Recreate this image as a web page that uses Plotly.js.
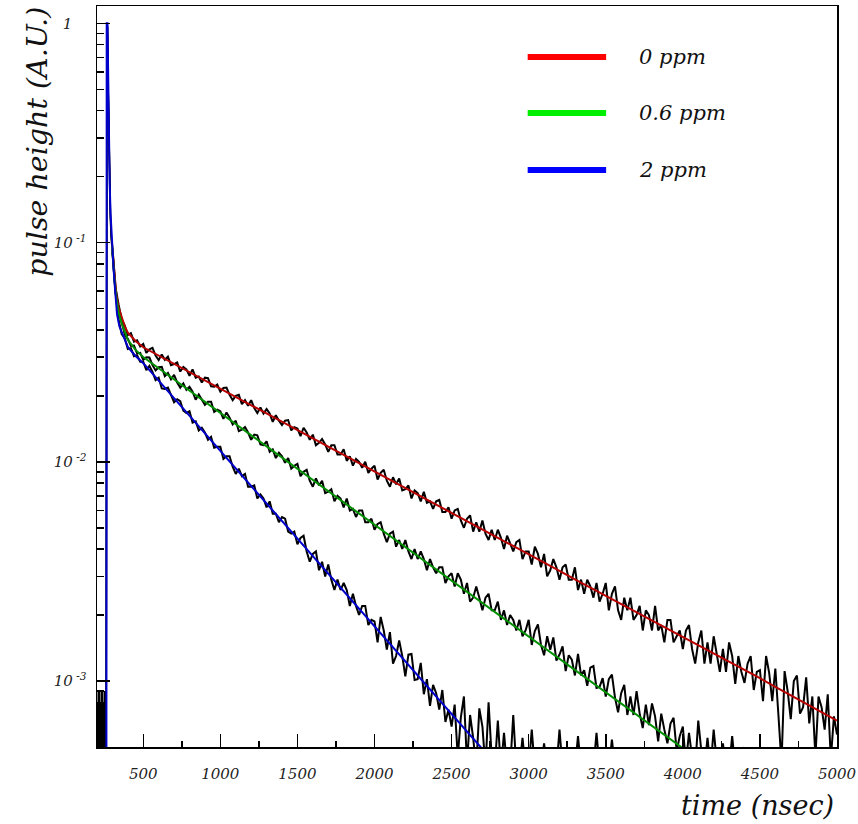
<!DOCTYPE html>
<html>
<head>
<meta charset="utf-8">
<script src="https://cdn.plot.ly/plotly-3.0.1.min.js"></script>
<style>html,body{margin:0;padding:0;background:#fff;}#chart{width:858px;height:824px;}</style>
</head>
<body>
<div id="chart"></div>
<script>
// ---------- data ----------
const seriesNames = ['0 ppm', '0.6 ppm', '2 ppm'];
const legendColors = ['#ff0000', '#00ee00', '#0000ff'];
const fitColors = ['#b80000', '#009000', '#0000cc'];

const xTickVals = [500, 1000, 1500, 2000, 2500, 3000, 3500, 4000, 4500, 5000];
const xTickText = ['500', '1000', '1500', '2000', '2500', '3000', '3500', '4000', '4500', '5000'];
const yTickVals = [0.001, 0.01, 0.1, 1];
const yTickText = ['10<sup> -3</sup>', '10<sup> -2</sup>', '10<sup> -1</sup>', '1\u00a0\u00a0\u00a0'];

// measured traces: pre-pulse + pulse (start 200 ns, step 4 ns)
const redDataEarly = [0.0004,0.0008,0.0004,0.0009,0.0005,0.0007,0.0004,0.0009,0.0006,0.0004,0.0008,0.0004,0.0009,0.0005,0.0008,0.0006,1.0,0.97,0.55,0.33,0.22,0.16,0.13,0.112,0.1];
const greenDataEarly = [0.0007,0.0004,0.0009,0.0004,0.0006,0.0004,0.0008,0.0005,0.0004,0.0009,0.0004,0.0007,0.0004,0.0008,0.0004,0.0007,1.0,0.96,0.54,0.32,0.21,0.155,0.125,0.108,0.097];
const blueDataEarly = [0.0005,0.0004,0.0008,0.0004,0.0009,0.0004,0.0006,0.0004,0.0008,0.0004,0.0007,0.0004,0.0006,0.0004,0.0009,0.0005,1.0,0.96,0.54,0.31,0.2,0.15,0.12,0.105,0.095];

// measured traces: decay (start 300 ns, step 20 ns)
const redData = [0.094,0.0625,0.0522,0.0446,0.0418,0.0379,0.0386,0.0353,0.0358,0.0336,
0.0345,0.0314,0.0326,0.0331,0.0305,0.0291,0.0309,0.0292,0.0302,0.0276,0.0279,0.0284,0.0258,0.0271,0.0264,0.0247,0.0264,0.0242,0.0245,0.0230,0.0242,0.0241,0.0221,0.0220,0.0225,
0.0209,0.0217,0.0218,0.0202,0.0191,0.0200,0.0202,0.0183,0.0191,0.0180,0.0191,0.0176,0.0167,0.0177,0.0166,0.0174,0.0166,0.0152,0.0163,0.0154,0.0147,0.0154,0.0155,0.0139,0.0144,
0.0142,0.0131,0.0143,0.0136,0.0126,0.0133,0.0119,0.0122,0.0127,0.0120,0.0111,0.0119,0.0119,0.0108,0.0108,0.0114,0.0101,0.0106,0.0096,0.0103,0.0100,0.0094,0.0100,0.0089,0.0093,
0.0096,0.0083,0.0089,0.0092,0.0082,0.0077,0.0085,0.0079,0.0084,0.0074,0.0075,0.0078,0.0068,0.0074,0.0072,0.0066,0.0073,0.0065,0.0066,0.0061,0.0066,0.0067,0.0059,0.0059,0.0062,
0.0055,0.0060,0.0061,0.0054,0.0050,0.0055,0.0057,0.0048,0.0053,0.0048,0.0054,0.0047,0.0044,0.0049,0.0044,0.0049,0.0045,0.0040,0.0046,0.0042,0.0039,0.0043,0.0044,0.0036,0.0039,
0.0039,0.0034,0.0041,0.0038,0.0033,0.0038,0.0030,0.0032,0.0036,0.0033,0.0029,0.0033,0.0034,0.0029,0.0029,0.0033,0.0026,0.0029,0.0025,0.0029,0.0027,0.0024,0.0028,0.0023,0.0025,
0.0028,0.0021,0.0025,0.0027,0.0021,0.0019,0.0024,0.0021,0.0024,0.0019,0.0020,0.0022,0.0017,0.0021,0.0020,0.0017,0.0022,0.0017,0.0018,0.0015,0.0019,0.0019,0.0015,0.0016,0.0017,
0.0014,0.0017,0.0018,0.0014,0.0012,0.0015,0.0017,0.0012,0.0015,0.0012,0.0016,0.0013,0.0011,0.0014,0.0011,0.0015,0.0013,0.00097,0.0013,0.0011,0.00098,0.0012,0.0013,0.00091,0.0011,
0.00112,0.00081,0.00130,0.00109,0.00081,0.00114,0.00070,0.00042,0.00111,0.00090,0.00067,0.00100,0.00106,0.00071,0.00076,0.00104,0.00064,0.00085,0.00045,0.00085,0.00076,0.00060,0.00087,0.00044,0.00069,0.00057];

const greenData = [0.092,0.0600,0.0478,0.0435,0.0380,0.0364,0.0338,0.0339,0.0312,0.0314,
0.0292,0.0300,0.0299,0.0276,0.0261,0.0270,0.0271,0.0246,0.0254,0.0238,0.0249,0.0230,0.0218,0.0228,0.0213,0.0220,0.0209,0.0192,0.0203,0.0191,0.0182,0.0188,0.0188,0.0169,0.0173,
0.0170,0.0157,0.0168,0.0159,0.0148,0.0154,0.0138,0.0140,0.0144,0.0136,0.0126,0.0133,0.0132,0.0120,0.0119,0.0124,0.0111,0.0114,0.0104,0.0110,0.0106,0.0099,0.0104,0.0093,0.0096,
0.0098,0.0086,0.0090,0.0092,0.0082,0.0077,0.0084,0.0078,0.0082,0.0072,0.0073,0.0075,0.0066,0.0070,0.0068,0.0062,0.0068,0.0060,0.0061,0.0056,0.0060,0.0060,0.0053,0.0053,0.0055,
0.0049,0.0052,0.0053,0.0047,0.0043,0.0047,0.0048,0.0041,0.0044,0.0040,0.0044,0.0039,0.0036,0.0040,0.0036,0.0039,0.0036,0.0032,0.0036,0.0033,0.0031,0.0033,0.0033,0.0028,0.0030,
0.0031,0.0027,0.0031,0.0029,0.0025,0.0028,0.0023,0.0024,0.0027,0.0024,0.0021,0.0024,0.0025,0.0021,0.0021,0.0023,0.0019,0.0021,0.0018,0.0020,0.0019,0.0017,0.0019,0.0016,0.0017,
0.0019,0.00146,0.00169,0.00181,0.00146,0.00131,0.00160,0.00139,0.00158,0.00124,0.00132,0.00144,0.00111,0.00131,0.00125,0.00106,0.00133,0.00106,0.00112,0.00095,0.00115,0.00117,0.00093,0.00094,0.00103,
0.00085,0.00102,0.00107,0.00084,0.00072,0.00088,0.00096,0.00070,0.00085,0.00070,0.00090,0.00071,0.00061,0.00078,0.00063,0.00079,0.00069,0.00053,0.00071,0.00060,0.00052,0.00064,0.00068,0.00048,0.00056,
0.00062,0.00042,0.00058,0.00045,0.00040,0.00066,0.00048,0.00040,0.00055,0.00040,0.00060,0.00043,0.00040,0.00052,0.00040,0.00040,0.00056,0.00040,0.00040,0.00040,0.00050];

const blueData = [0.090,0.0595,0.0446,0.0382,0.0366,0.0327,0.0330,0.0303,0.0306,0.0286,
0.0286,0.0262,0.0274,0.0257,0.0236,0.0242,0.0216,0.0215,0.0218,0.0203,0.0187,0.0193,0.0189,0.0171,0.0167,0.0170,0.0151,0.0153,0.0139,0.0143,0.0136,0.0126,0.0130,0.0116,0.0117,
0.0117,0.0103,0.0106,0.0106,0.0095,0.0088,0.0093,0.0086,0.0088,0.0077,0.0077,0.0078,0.0068,0.0071,0.0068,0.0062,0.0066,0.0058,0.0058,0.0053,0.0056,0.0055,0.0048,0.0047,0.0048,
0.0042,0.0045,0.0046,0.0039,0.0035,0.0038,0.0039,0.0032,0.0035,0.0030,0.0034,0.0029,0.0026,0.0029,0.0026,0.0028,0.0026,0.0022,0.0025,0.0022,0.0020,0.0022,0.0022,0.0018,0.0019,
0.00187,0.00150,0.00196,0.00170,0.00139,0.00167,0.00120,0.00130,0.00153,0.00130,0.00105,0.00132,0.00133,0.00101,0.00102,0.00121,0.00087,0.00102,0.00077,0.00096,0.00088,0.00074,0.00091,0.00065,0.00074,
0.00062,0.00078,0.00045,0.00068,0.00085,0.00042,0.00070,0.00055,0.00040,0.00075,0.00062,0.00040,0.00080,0.00045,0.00040,0.00066,0.00040,0.00058,0.00040,0.00040,0.00070,0.00040,0.00040,0.00055,0.00040,
0.00040,0.00060,0.00040,0.00040,0.00040,0.00052,0.00040,0.00040,0.00040,0.00040,0.00060,0.00040,0.00040,0.00040,0.00040,0.00040,0.00056,0.00040,0.00040,0.00040,0.00040,0.00040,0.00058,0.00040,0.00040,
0.00040,0.00040,0.00054,0.00040,0.00040,0.00040];

// fitted curves
const redFitEarlyT = [298, 305, 315, 325, 340, 360, 380, 400, 450];
const redFitEarly = [0.098, 0.083, 0.068, 0.058, 0.0505, 0.0455, 0.0415, 0.0388, 0.0356];
const greenFitEarlyT = [298, 305, 315, 325, 340, 360, 380, 400, 450];
const greenFitEarly = [0.097, 0.081, 0.066, 0.056, 0.048, 0.0428, 0.0388, 0.0360, 0.0324];
const blueFitEarlyT = [261, 263, 268, 272, 277, 282, 288, 294, 300, 308, 318, 330, 345, 360, 380, 400, 450];
const blueFitEarly = [0.0003, 1.0, 1.0, 0.55, 0.3, 0.19, 0.135, 0.108, 0.092, 0.075, 0.060, 0.047, 0.0415, 0.0389, 0.0358, 0.0334, 0.0304];

const fitGrid = [500,600,700,800,900,1000,1100,1200,1300,1400,1500,1600,1700,1800,1900,2000,2100,2200,2300,2400,2500,2600,2700,2800,2900,3000,3100,3200,3300,3400,3500,3600,3700,3800,3900,4000,4100,4200,4300,4400,4500,4600,4700,4800,4900,5000];
const redFit = [0.0333,0.03055,0.02802,0.02568,0.02354,0.02158,0.01978,0.01813,0.01662,0.01524,0.01396,0.0128,0.01173,0.01075,0.00986,0.00904,0.00828,0.00759,0.00696,0.00638,0.00585,0.00536,0.00491,0.0045,0.00413,0.00378,0.00347,0.00318,0.00291,0.00267,0.00245,0.00224,0.00206,0.00189,0.00173,0.00158,0.00145,0.00133,0.00122,0.00112,0.00103,0.00094,0.00086,0.00079,0.00072,0.00066];
const greenFit = [0.03006,0.02673,0.02377,0.02113,0.01879,0.01671,0.01486,0.01321,0.01175,0.01045,0.00929,0.00826,0.00735,0.00653,0.00581,0.00516,0.00459,0.00408,0.00363,0.00323,0.00287,0.00255,0.00227,0.00202,0.00179,0.0016,0.00142,0.00126,0.00112,0.000998,0.000887,0.000789,0.000701,0.000624,0.000555,0.000493,0.000439];
const blueFit = [0.02818,0.02344,0.0195,0.01622,0.01349,0.01122,0.00933,0.00776,0.00646,0.00537,0.00447,0.00372,0.00309,0.00257,0.00214,0.00178,0.00148,0.00123,0.00102,0.000851,0.000708,0.000589,0.00049,0.000407];

// ---------- traces ----------
const dataEarly = [redDataEarly, greenDataEarly, blueDataEarly];
const dataMain = [redData, greenData, blueData];
const fitsEarlyT = [redFitEarlyT, greenFitEarlyT, blueFitEarlyT];
const fitsEarly = [redFitEarly, greenFitEarly, blueFitEarly];
const fitsMain = [redFit, greenFit, blueFit];

const traces = [];
for (let i = 0; i < 3; i++) {
  traces.push({type: 'scatter', mode: 'lines', x0: 200, dx: 4, y: dataEarly[i],
    line: {color: '#000', width: 1.4}, hoverinfo: 'skip', showlegend: false});
  traces.push({type: 'scatter', mode: 'lines', x0: 300, dx: 20, y: dataMain[i],
    line: {color: '#000', width: 2}, hoverinfo: 'skip', showlegend: false});
}
for (let i = 0; i < 3; i++) {
  traces.push({type: 'scatter', mode: 'lines', name: seriesNames[i],
    x: fitsEarlyT[i].concat(fitGrid.slice(0, fitsMain[i].length)),
    y: fitsEarly[i].concat(fitsMain[i]),
    line: {color: fitColors[i], width: 2}, showlegend: false});
}

// ---------- layout ----------
const serif = 'DejaVu Serif, Liberation Serif, serif';
const tickFont = {family: serif, size: 15, style: 'italic', color: '#222'};
const legendY = [0.9312, 0.8556, 0.7787];
const shapes = [], annotations = [];
for (let i = 0; i < 3; i++) {
  shapes.push({type: 'line', xref: 'paper', yref: 'paper', x0: 0.582, x1: 0.688,
    y0: legendY[i], y1: legendY[i], line: {color: legendColors[i], width: 6}});
  annotations.push({xref: 'paper', yref: 'paper', x: 0.7297, y: legendY[i], xanchor: 'left',
    yanchor: 'middle', showarrow: false, text: seriesNames[i],
    font: {family: serif, size: 21, style: 'italic', color: '#111'}});
}
annotations.push({xref: 'paper', yref: 'paper', x: -0.08, y: 0.8165, xanchor: 'center',
  yanchor: 'middle', textangle: -90, showarrow: false, text: 'pulse height (A.U.)',
  font: {family: serif, size: 28.5, style: 'italic', color: '#111'}});
annotations.push({xref: 'paper', yref: 'paper', x: 0.999, y: -0.0796, xanchor: 'right',
  yanchor: 'middle', showarrow: false, text: 'time (nsec)',
  font: {family: serif, size: 27, style: 'italic', color: '#111'}});

const layout = {
  width: 858, height: 824,
  margin: {l: 97, r: 21, t: 6, b: 77},
  paper_bgcolor: '#fff', plot_bgcolor: '#fff',
  showlegend: false,
  xaxis: {
    range: [200, 5000], tickmode: 'array', tickvals: xTickVals, ticktext: xTickText,
    ticks: 'inside', ticklen: 13, tickwidth: 1.5, tickcolor: '#000',
    minor: {dtick: 250, tick0: 0, ticks: 'inside', ticklen: 6, tickwidth: 1.5, tickcolor: '#000', showgrid: false},
    showline: true, mirror: true, linecolor: '#000', linewidth: 1.5,
    showgrid: false, zeroline: false, tickfont: tickFont, ticklabelstandoff: 12
  },
  yaxis: {
    type: 'log', range: [Math.log10(5e-4), Math.log10(1.2)],
    tickmode: 'array', tickvals: yTickVals, ticktext: yTickText,
    ticks: 'inside', ticklen: 13, tickwidth: 1.5, tickcolor: '#000',
    minor: {dtick: 'D1', ticks: 'inside', ticklen: 7, tickwidth: 1.5, tickcolor: '#000', showgrid: false},
    showline: true, mirror: true, linecolor: '#000', linewidth: 1.5,
    showgrid: false, zeroline: false, tickfont: tickFont, ticklabelstandoff: 6
  },
  shapes: shapes,
  annotations: annotations
};

Plotly.newPlot('chart', traces, layout, {staticPlot: true, displayModeBar: false});
</script>
</body>
</html>
